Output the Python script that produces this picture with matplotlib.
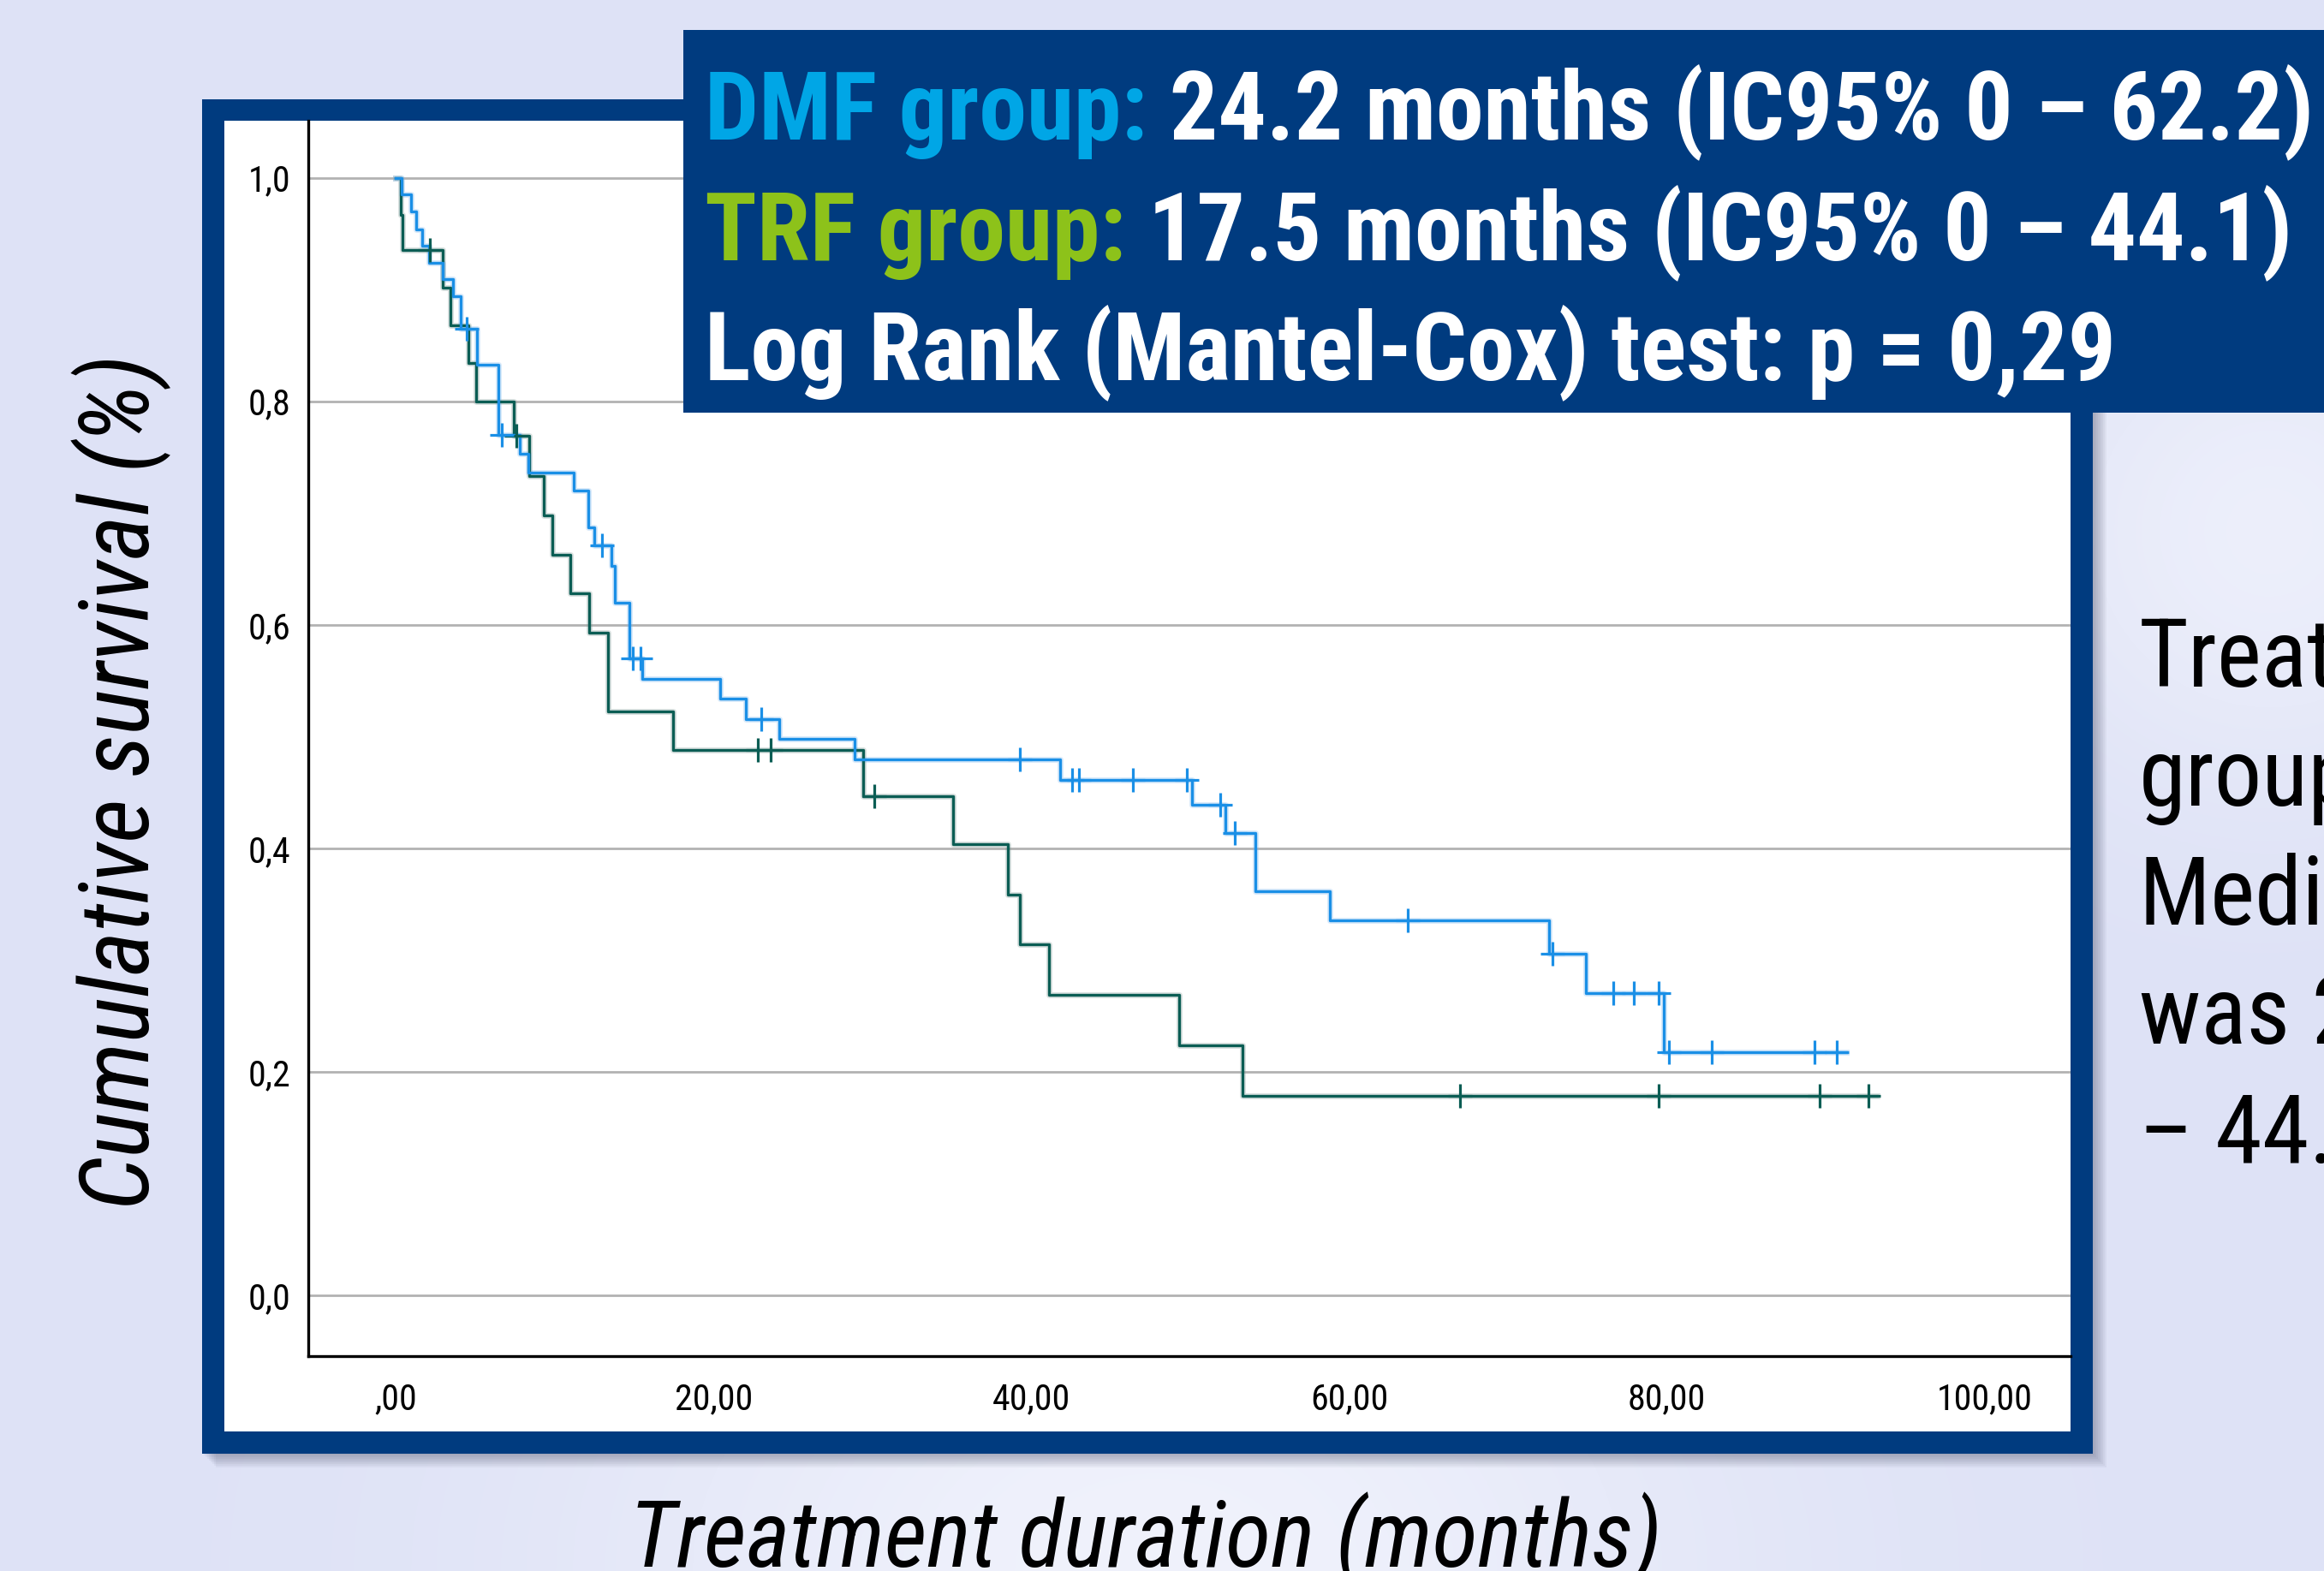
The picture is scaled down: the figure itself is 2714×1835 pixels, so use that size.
import numpy as np
import matplotlib
matplotlib.use("Agg")
import matplotlib.pyplot as plt
from matplotlib import font_manager
from matplotlib.patches import Rectangle

W, H = 2714, 1835
DPI = 100

# Kaplan-Meier steps (months, survival after the step)
dmf_times = [0, 0.4, 0.95, 1.3, 1.65, 2.1, 2.95, 3.6, 4.1, 5.1, 6.45, 7.8, 8.35,
             11.2, 12.1, 12.5, 13.6, 13.8, 14.7, 15.5, 20.4, 22.05, 24.15, 28.9,
             41.8, 50.1, 52.2, 54.1, 58.8, 72.6, 74.9, 79.8]
dmf_surv = [1.0, 0.985, 0.970, 0.954, 0.939, 0.924, 0.909, 0.894, 0.865, 0.833,
            0.770, 0.753, 0.736, 0.720, 0.687, 0.671, 0.653, 0.620, 0.570, 0.552,
            0.534, 0.516, 0.498, 0.480, 0.461, 0.439, 0.414, 0.362, 0.336, 0.306,
            0.271, 0.218]
dmf_censored = [4.45, 6.7, 13.0, 14.9, 15.4, 23.0, 39.3, 42.55, 43.0, 46.4, 49.8,
                51.9, 52.8, 63.7, 72.8, 76.6, 77.9, 79.5, 80.1, 82.8, 89.3, 90.7]
dmf_end = 91.3

trf_times = [0, 0.3, 0.45, 2.95, 3.45, 4.55, 5.05, 7.45, 8.4, 9.3, 9.85, 11.0,
             12.15, 13.35, 17.45, 29.4, 35.1, 38.5, 39.3, 41.1, 49.3, 53.3]
trf_surv = [1.0, 0.967, 0.935, 0.902, 0.868, 0.834, 0.800, 0.769, 0.733, 0.698,
            0.663, 0.628, 0.593, 0.523, 0.488, 0.447, 0.404, 0.359, 0.314, 0.269,
            0.224, 0.179]
trf_censored = [2.15, 7.6, 22.8, 23.6, 30.1, 67.0, 79.5, 89.6, 92.7]
trf_end = 93.2

x_ticks = [0, 20, 40, 60, 80, 100]
x_ticklabels = [",00", "20,00", "40,00", "60,00", "80,00", "100,00"]
y_ticks = [0.0, 0.2, 0.4, 0.6, 0.8, 1.0]
y_ticklabels = ["0,0", "0,2", "0,4", "0,6", "0,8", "1,0"]

title_rows = [
    [("DMF group:", "#00a6e6"), (" 24.2 months (IC95% 0 \u2013 62.2)", "white")],
    [("TRF group:", "#8dc21a"), (" 17.5 months (IC95% 0 \u2013 44.1)", "white")],
    [("Log Rank (Mantel-Cox) test: p = 0,29", "white")],
]
side_lines = ["Treat", "group", "Media", "was 2", "\u2013 44."]


def pick_narrow():
    have = {}
    for f in font_manager.fontManager.ttflist:
        have.setdefault(f.name, set()).add((f.style, int(f.weight) >= 600))
    for name in ["Liberation Sans Narrow", "Arial Narrow", "Roboto Condensed",
                 "Asap Condensed", "Barlow Semi Condensed", "Fira Sans Condensed",
                 "IBM Plex Sans Condensed"]:
        s = have.get(name, set())
        if ("normal", True) in s and ("italic", False) in s:
            return name
    return "DejaVu Sans"


NARROW = [pick_narrow(), "DejaVu Sans"]
NAVY = "#003b7f"
DMF_COLOR = "#1a8fe6"
TRF_COLOR = "#0b5d54"

fig = plt.figure(figsize=(W / DPI, H / DPI), dpi=DPI)
renderer = fig.canvas.get_renderer()


def fx(px):
    return px / W


def fy(py):
    return 1 - py / H


def box(x0, y0, x1, y1, **kw):
    r = Rectangle((fx(x0), fy(y1)), fx(x1) - fx(x0), fy(y0) - fy(y1),
                  transform=fig.transFigure, **kw)
    fig.add_artist(r)
    return r


def fit(t, target, vertical=False):
    bb = t.get_window_extent(renderer)
    size = bb.height if vertical else bb.width
    t.set_fontsize(t.get_fontsize() * target / size)


# soft lavender background
yy, xx = np.mgrid[0:H, 0:W].astype(float)
glow = np.exp(-((xx - 1350) / 650) ** 2 - ((yy - 1835) / 450) ** 2)
glow += 0.8 * np.exp(-((xx - 2650) / 300) ** 2 - ((yy - 620) / 300) ** 2)
glow = np.clip(glow, 0, 1)[..., None]
base = np.array([222, 226, 246]) / 255
light = np.array([240, 242, 252]) / 255
bg = base * (1 - glow) + light * glow
fig.figimage(bg, xo=0, yo=0, origin="upper", zorder=-20)

# frame with drop shadow
for k in range(1, 9):
    box(236 + 2 * k, 116 + 2 * k, 2444 + 2 * k, 1698 + 2 * k,
        facecolor="#3a3f5a", edgecolor="none", alpha=0.05, zorder=-6)
box(236, 116, 2444, 1698, facecolor=NAVY, edgecolor="none", zorder=-5)
box(262, 141, 2418, 1672, facecolor="white", edgecolor="none", zorder=-4)

# survival plot
ax = fig.add_axes([fx(360), fy(1584), fx(2418) - fx(360), fy(141) - fy(1584)])
ax.set_facecolor("none")
ax.set_xlim(-5.5, 105.4)
ax.set_ylim(-0.054, 1.051)
for side in ["top", "right"]:
    ax.spines[side].set_visible(False)
for side in ["left", "bottom"]:
    ax.spines[side].set_linewidth(2.4)
    ax.spines[side].set_color("black")

# size tick labels so that "100,00" is as wide as in the picture
probe = fig.text(0, 0, x_ticklabels[-1], family=NARROW, fontsize=30)
fit(probe, 112)
tick_size = probe.get_fontsize()
probe.remove()

ax.set_yticks(y_ticks)
ax.set_yticklabels(y_ticklabels, family=NARROW, fontsize=tick_size)
ax.set_xticks(x_ticks)
ax.set_xticklabels(x_ticklabels, family=NARROW, fontsize=tick_size)
ax.tick_params(axis="both", length=0)
ax.tick_params(axis="x", pad=22)
ax.tick_params(axis="y", pad=15)
ax.grid(axis="y", color="#b2b2b2", lw=2.0)
ax.set_axisbelow(True)


def km(times, surv, end, cens, color, halo):
    t = list(times) + [end]
    s = list(surv) + [surv[-1]]
    ax.step(t, s, where="post", color=halo, lw=5, alpha=0.3, zorder=3)
    ax.step(t, s, where="post", color=color, lw=2.4, zorder=4)
    idx = np.searchsorted(times, cens, side="right") - 1
    ax.plot(cens, np.array(surv)[idx], ls="none", marker="+", ms=20, mew=2.3,
            color=color, zorder=5)


km(trf_times, trf_surv, trf_end, trf_censored, TRF_COLOR, "#7f9a96")
km(dmf_times, dmf_surv, dmf_end, dmf_censored, DMF_COLOR, "#7fb8ee")

# axis titles
ylab = fig.text(fx(142), fy(913), "Cumulative survival (%)", rotation=90,
                ha="center", va="center", fontsize=80, style="italic",
                family=NARROW)
fit(ylab, 1000, vertical=True)
xlab = fig.text(fx(1338), fy(1830), "Treatment duration (months)", ha="center",
                va="baseline", fontsize=80, style="italic", family=NARROW)
fit(xlab, 1207)

# results box
box(798, 35, W + 10, 482, facecolor=NAVY, edgecolor="none", zorder=5)
row_texts = []
for baseline, parts in zip([163, 304, 444], title_rows):
    row = []
    for s, c in parts:
        row.append(fig.text(0, fy(baseline), s, color=c, fontsize=80,
                            fontweight="bold", family=NARROW, ha="left",
                            va="baseline", zorder=6))
    row_texts.append(row)
first_w = sum(t.get_window_extent(renderer).width for t in row_texts[0])
title_size = 80 * 1880 / first_w
for row in row_texts:
    x = 823
    for t in row:
        t.set_fontsize(title_size)
        t.set_x(fx(x))
        x += t.get_window_extent(renderer).width

# side text, cut by the right edge
for i, s in enumerate(side_lines):
    fig.text(fx(2498), fy(802 + 139 * i), s, fontsize=80,
             family=NARROW, ha="left", va="baseline", color="black")

fig.savefig("out.png", dpi=DPI)
